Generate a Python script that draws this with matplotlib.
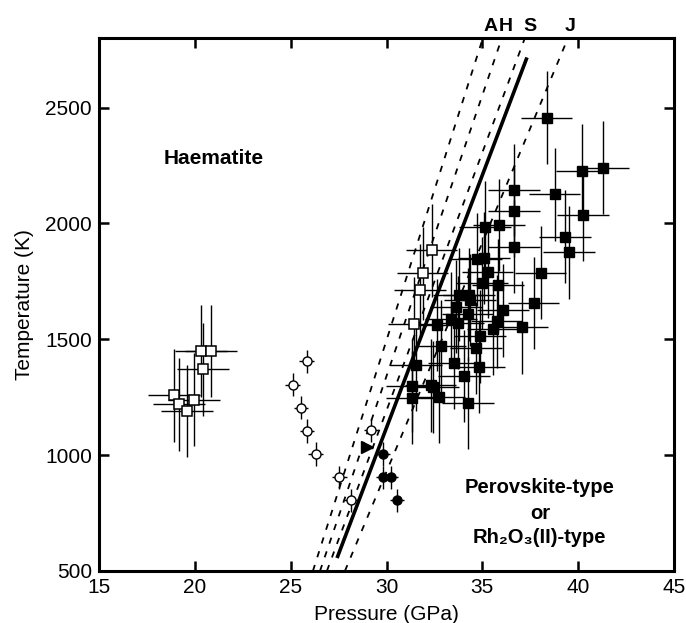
import numpy as np
import matplotlib
matplotlib.use("Agg")
import matplotlib.pyplot as plt

plt.rcParams["font.family"] = ["Liberation Sans", "DejaVu Sans"]

# filled squares (perovskite / Rh2O3(II)-type)
sq_p = [38.35, 40.18, 41.32, 38.77, 36.65, 36.65, 40.25, 39.31, 39.53, 36.65,
        38.04, 37.67, 37.05, 36.09, 35.87, 35.12, 35.08, 34.70, 35.27, 34.99,
        35.82, 34.32, 34.35, 33.80, 33.62, 34.23, 33.36, 33.74, 35.74, 35.57,
        32.61, 34.87, 32.82, 34.67, 31.54, 33.52, 34.82, 34.04, 31.34, 32.30,
        32.44, 31.34, 32.74, 34.26]
sq_t = [2456, 2227, 2240, 2126, 2144, 2054, 2036, 1942, 1875, 1899,
        1788, 1657, 1552, 1625, 1993, 1984, 1851, 1845, 1791, 1743,
        1733, 1693, 1669, 1693, 1640, 1607, 1589, 1572, 1578, 1546,
        1561, 1513, 1470, 1462, 1391, 1398, 1380, 1341, 1298, 1301,
        1294, 1248, 1251, 1225]

# open squares (haematite)
osq_p = [20.32, 20.83, 20.42, 18.91, 19.17, 19.95, 19.59, 32.35, 31.88, 31.74, 31.45]
osq_t = [1449, 1449, 1370, 1258, 1219, 1240, 1190, 1884, 1784, 1712, 1568]

# open circles
oc_p = [25.83, 25.10, 25.54, 25.85, 26.30, 27.54, 28.13, 29.19]
oc_t = [1405, 1304, 1205, 1104, 1005, 905, 805, 1107]

# filled circles
fc_p = [29.80, 29.83, 30.21, 30.55]
fc_t = [1005, 905, 905, 805]

# filled triangle
tri_p = [28.96]
tri_t = [1035]

sq_perr, sq_terr = 1.35, 200
c_perr, c_terr = 0.38, 50

# phase boundaries (P at T=500, P at T=2800)
bound_names = ["A", "H", "S", "J"]
bound_p0 = [26.16, 26.53, 26.89, 27.83]
bound_p1 = [35.03, 36.02, 37.22, 39.47]
label_p = [35.45, 36.23, 37.48, 39.57]
# this study
this_p = [27.42, 37.33]
this_t = [556, 2716]

fig = plt.figure(figsize=(6.86, 6.23), dpi=100)
ax = fig.add_axes([99/686, 52/623, 575/686, 533/623])

for p0, p1 in zip(bound_p0, bound_p1):
    ax.plot([p0, p1], [500, 2800], color="k", lw=1.3, dashes=(3.5, 4.5), zorder=2)
ax.plot(this_p, this_t, color="k", lw=2.6, solid_capstyle="butt", zorder=2)

ax.errorbar(osq_p, osq_t, xerr=sq_perr, yerr=sq_terr, fmt="s", ms=7, mfc="white",
            mec="k", mew=1.1, ecolor="k", elinewidth=1.0, capsize=0, zorder=3)
ax.errorbar(sq_p, sq_t, xerr=sq_perr, yerr=sq_terr, fmt="s", ms=7.5, mfc="k",
            mec="k", ecolor="k", elinewidth=1.0, capsize=0, zorder=3)
ax.errorbar(oc_p, oc_t, xerr=c_perr, yerr=c_terr, fmt="o", ms=6.5, mfc="white",
            mec="k", mew=1.0, ecolor="k", elinewidth=1.0, capsize=0, zorder=3)
ax.errorbar(fc_p, fc_t, xerr=c_perr, yerr=c_terr, fmt="o", ms=6.5, mfc="k",
            mec="k", ecolor="k", elinewidth=1.0, capsize=0, zorder=3)
ax.plot(tri_p, tri_t, ">", ms=8, color="k", zorder=3)

for name, lp in zip(bound_names, label_p):
    ax.text(lp, 2848, name, ha="center", va="center", fontsize=14, fontweight="bold",
            clip_on=False)

ax.text(21.0, 2282, "Haematite", ha="center", va="center", fontsize=15, fontweight="bold")
ax.text(38.0, 861, "Perovskite-type", ha="center", va="center", fontsize=14.5, fontweight="bold")
ax.text(38.0, 748, "or", ha="center", va="center", fontsize=14.5, fontweight="bold")
ax.text(38.0, 645, "Rh₂O₃(II)-type", ha="center", va="center", fontsize=14.5, fontweight="bold")

ax.set_xlim(15, 45)
ax.set_ylim(500, 2800)
ax.set_xticks(np.arange(15, 46, 5))
ax.set_yticks(np.arange(500, 2501, 500))
ax.tick_params(direction="in", length=7, width=1.8, top=True, right=True,
               labelsize=15, pad=5)
for s in ax.spines.values():
    s.set_linewidth(2.2)
ax.set_xlabel("Pressure (GPa)", fontsize=15, labelpad=6)
ax.set_ylabel("Temperature (K)", fontsize=15, labelpad=8)

fig.savefig("out.png", dpi=100)
